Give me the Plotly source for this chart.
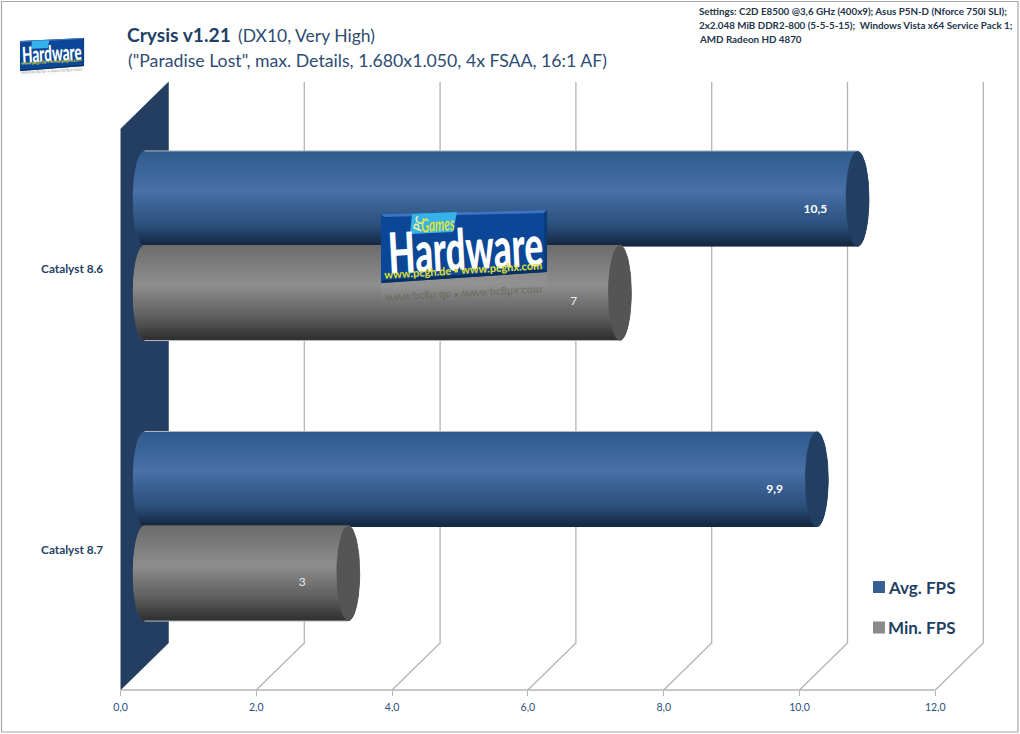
import json
import math
import plotly.graph_objects as go

# Chart data
categories = ["Catalyst 8.7", "Catalyst 8.6"]
avg_fps = [9.9, 10.5]
min_fps = [3, 7]
x_ticks = [0, 2, 4, 6, 8, 10, 12]
series_names = ["Avg. FPS", "Min. FPS"]

# Canvas and the mapping between axis units and pixels
W, H = 1020, 734
PX_PER_X = 67.9
PX_PER_Y = 280.5
ORIGIN_X = 120.5
FLOOR_Y = 690.0

def ux(px):
    return px / PX_PER_X

def uy(px):
    return px / PX_PER_Y

def paper_x(px):
    return px / W

def paper_y(py):
    return 1 - py / H

# Pseudo-3D depth of the plot box, and of the bars standing mid-way inside it
BACK_DX, BACK_DY = ux(48), uy(47)
BAR_DX, BAR_DY = ux(24), uy(23.5)
BAR_R_Y = uy(47.3)
BAR_R_X = ux(11.5)
BAR_OFFSET = uy(47)

GRID = "#b4b4b4"
NAVY = "#1f3f66"
FONT = "Lato"

BLUE_STOPS = [(0, (46, 90, 140)), (0.42, (72, 113, 168)), (0.8, (42, 78, 122)), (1, (20, 38, 63))]
GRAY_STOPS = [(0, (108, 108, 108)), (0.42, (142, 142, 142)), (0.75, (96, 96, 96)), (1, (48, 48, 48))]

def shade(stops, t):
    for (t0, c0), (t1, c1) in zip(stops, stops[1:]):
        if t <= t1:
            f = (t - t0) / (t1 - t0)
            return "rgb(%d,%d,%d)" % tuple(round(a + (b - a) * f) for a, b in zip(c0, c1))
    return "rgb(%d,%d,%d)" % stops[-1][1]

fig = go.Figure()

def line(xs, ys, color=GRID, width=1.3):
    fig.add_trace(go.Scatter(x=xs, y=ys, mode="lines", line=dict(color=color, width=width),
                             hoverinfo="skip", showlegend=False))

def polygon(xs, ys, color):
    fig.add_trace(go.Scatter(x=xs, y=ys, mode="lines", fill="toself", fillcolor=color,
                             line=dict(color=color, width=0.5), hoverinfo="skip", showlegend=False))

# Side wall of the plot box
y_low, y_high = -0.5, len(categories) - 0.5
polygon([0, BACK_DX, BACK_DX, 0, 0],
        [y_high, y_high + BACK_DY, y_low + BACK_DY, y_low, y_high], "#233e60")
line([0, 0], [y_low, y_high], "#9aa0a8", 1)

# Grid lines on the back wall, folding forward across the floor
for v in x_ticks[1:]:
    line([v + BACK_DX, v + BACK_DX, v], [y_high + BACK_DY, y_low + BACK_DY, y_low])
line([x_ticks[0], x_ticks[-1]], [y_low, y_low], GRID, 1.6)

def cylinder(value, y_center, stops, cap_color, rim_side):
    cx0 = BAR_DX
    cx1 = value + BAR_DX
    n = 60
    # Solid silhouette first, so nothing behind shows between the shading rows
    left = [(cx0 - BAR_R_X * math.sin(math.pi * k / n), y_center + BAR_R_Y * math.cos(math.pi * k / n))
            for k in range(n + 1)]
    right = [(cx1 + BAR_R_X * math.sin(math.pi * k / n), y_center - BAR_R_Y * math.cos(math.pi * k / n))
             for k in range(n + 1)]
    outline = left + right + left[:1]
    polygon([p[0] for p in outline], [p[1] for p in outline], shade(stops, 0.6))
    rows = 94
    for i in range(rows):
        t = (i + 0.5) / rows
        v = 1 - 2 * t
        chord = BAR_R_X * math.sqrt(max(0, 1 - v * v))
        y = y_center + v * BAR_R_Y
        line([cx0 - chord, cx1 + chord], [y, y], shade(stops, t), 2)
    # Pale outer edge where the cylinder meets the white background
    rim_y = y_center + rim_side * (BAR_R_Y + uy(0.5))
    line([cx0, cx1], [rim_y, rim_y], "#b6bcc2", 1)
    xs = [cx1 + BAR_R_X * math.cos(2 * math.pi * k / n) for k in range(n + 1)]
    ys = [y_center + BAR_R_Y * math.sin(2 * math.pi * k / n) for k in range(n + 1)]
    polygon(xs, ys, cap_color)

def value_text(v):
    return str(v).replace(".", ",")

# Bars, top category first so each lower bar overlaps cleanly
for c in range(len(categories) - 1, -1, -1):
    base = c + BAR_DY
    cylinder(avg_fps[c], base + BAR_OFFSET, BLUE_STOPS, "#223f61", 1)
    cylinder(min_fps[c], base - BAR_OFFSET, GRAY_STOPS, "#555555", -1)

# Value labels sit just inside the bar ends, below the bar's centre line
for c in range(len(categories)):
    base = c + BAR_DY
    fig.add_trace(go.Scatter(
        x=[avg_fps[c] - ux(18)], y=[base + BAR_OFFSET - uy(11)], mode="text",
        text=[value_text(avg_fps[c])], textfont=dict(family=FONT, size=12, color="white", weight="bold"),
        hoverinfo="skip", showlegend=False))
    fig.add_trace(go.Scatter(
        x=[min_fps[c] - ux(22)], y=[base - BAR_OFFSET - uy(9.5)], mode="text",
        text=[value_text(min_fps[c])], textfont=dict(family=FONT, size=12, color="#ececec"),
        hoverinfo="skip", showlegend=False))

shapes = []
annotations = []
text_warps = {}

def note(text, px, py, size, color, anchor="center", angle=0, bold=False, italic=False,
         family=FONT, opacity=1.0, weight=None, warp=None):
    if warp:
        text_warps[len(annotations)] = warp
    annotations.append(dict(
        text=text, x=paper_x(px), y=paper_y(py), xref="paper", yref="paper",
        xanchor=anchor, yanchor="middle", showarrow=False, textangle=angle, opacity=opacity,
        font=dict(family=family, size=size, color=color,
                  weight=weight or ("bold" if bold else "normal"),
                  style="italic" if italic else "normal")))

def quad(points, fill, opacity=1.0):
    path = "M " + " L ".join("%.4f,%.4f" % (paper_x(x), paper_y(y)) for x, y in points) + " Z"
    shapes.append(dict(type="path", path=path, xref="paper", yref="paper", fillcolor=fill,
                       line=dict(width=0), opacity=opacity, layer="above"))

# Outer frame of the whole graphic
shapes.append(dict(type="rect", x0=paper_x(1.5), x1=paper_x(1018), y0=paper_y(732), y1=paper_y(1.5),
                   xref="paper", yref="paper", line=dict(color="#a8a8a8", width=1.2), layer="below"))

# Heading beside the small badge (first line is the figure title)
note('("Paradise Lost", max. Details, 1.680x1.050, 4x FSAA, 16:1 AF)', 125.5, 60.5, 17.7, "#2f4d73", "left")

# Test system notes, top right
settings = ["Settings: C2D E8500 @3,6 GHz (400x9); Asus P5N-D (Nforce 750i SLI);",
            "2x2.048 MiB DDR2-800 (5-5-5-15);  Windows Vista x64 Service Pack 1;",
            "AMD Radeon HD 4870"]
for i, s in enumerate(settings):
    note(s, 697, 11.5 + 13.8 * i, 9.8, "#24344a", "left", bold=True)

# Legend
legend_colors = ["#355f92", "#8a8a8a"]
for name, col, py in zip(series_names, legend_colors, [587.5, 628]):
    quad([(873, py - 6.5), (885, py - 6.5), (885, py + 5.5), (873, py + 5.5)], col)
    note(name, 886, py - 0.5, 17, NAVY, "left", bold=True)

def badge(x0, y0, x1, y1, left_h, right_h, scale, big):
    """Publisher badge: a tilted blue plate with a faded reflection below it."""
    # Reflection fading out beneath the plate
    steps = 8
    depth = 22 * scale
    slope = (y1 + right_h - y0 - left_h) / (x1 - x0)
    for k in range(steps):
        a = k / steps
        b = (k + 1) / steps
        ya = y0 + left_h + a * depth
        yb = y0 + left_h + b * depth
        quad([(x0, ya), (x1, ya + slope * (x1 - x0)), (x1, yb + slope * (x1 - x0)), (x0, yb)],
             "#c8c8c8", 0.14 * (1 - a))
    quad([(x0, y0), (x1, y1), (x1, y1 + right_h), (x0, y0 + left_h)], "#0b4796")
    # Bevelled rim of the plate
    rim = 3 * scale
    quad([(x0, y0), (x1, y1), (x1 - rim, y1 + rim), (x0 + rim, y0 + rim)], "#3f73bd")
    quad([(x0, y0 + left_h), (x1, y1 + right_h), (x1 - rim, y1 + right_h - rim), (x0 + rim, y0 + left_h - rim)],
         "#08305f")
    quad([(x1, y1), (x1, y1 + right_h), (x1 - rim, y1 + right_h - rim), (x1 - rim, y1 + rim)], "#0a3c7c")
    cx = (x0 + x1) / 2
    cy = (y0 + y1) / 2
    # Light tab holding the magazine name
    tx = x0 + 31 * scale
    ty = y0
    quad([(tx, ty), (tx + 45 * scale, ty - 2 * scale), (tx + 41 * scale, ty + 18 * scale),
          (tx - 2 * scale, ty + 20 * scale)], "#35b2ea")
    if big:
        note("PC", tx + 6, ty + 10, 12, "#f2f2a0", angle=-75, bold=True, italic=True)
        note("Games", tx + 26, ty + 10, 13, "#dfe03a", angle=-4, bold=True, italic=True,
             warp=(0.9, 1.45))
    note("Hardware", cx + 1 * scale, cy + 35 * scale, 35 * scale, "white", angle=-3, weight=900,
         warp=(1.0, 1.62))
    url = "www.pcgh.de ▪ www.pcghx.com"
    note(url, cx - 1 * scale, cy + 57.5 * scale, 11 * scale, "#e2e12a", angle=-3.5, bold=True)
    # Mirror image of the address in the reflection
    note(url, cx - 1 * scale, cy + 83 * scale, 11 * scale, "#56563c", angle=-3, bold=True,
         opacity=0.4, warp=(1.0, -1.0))

badge(381, 214, 547, 210, 69, 62, 1.0, True)
badge(20, 41, 84, 38, 30, 28, 0.385, False)

fig.update_layout(
    width=W, height=H,
    margin=dict(l=0, r=0, t=0, b=0),
    paper_bgcolor="white", plot_bgcolor="white",
    showlegend=False,
    separators=", ",
    font=dict(family=FONT),
    title=dict(
        text='<b>Crysis v1.21</b> \u2009<span style="font-size:17.5px;font-weight:normal;color:#2f4d73">(DX10, Very High)</span>',
        x=paper_x(127), xref="paper", xanchor="left",
        y=paper_y(35.5), yref="paper", yanchor="middle",
        font=dict(family=FONT, size=19.2, color=NAVY)),
    xaxis=dict(
        range=[-ORIGIN_X / PX_PER_X, (W - ORIGIN_X) / PX_PER_X],
        anchor="free", position=paper_y(FLOOR_Y),
        tickmode="array", tickvals=x_ticks, tickformat=".1f",
        ticks="outside", ticklen=5, tickcolor=GRID, tickwidth=1.3, ticklabelstandoff=2,
        tickfont=dict(family=FONT, size=10.5, color="#2b4f82"),
        showgrid=False, zeroline=False, showline=False, fixedrange=True),
    yaxis=dict(
        range=[y_low - (H - FLOOR_Y) / PX_PER_Y, y_low + FLOOR_Y / PX_PER_Y],
        anchor="free", position=paper_x(ORIGIN_X),
        tickmode="array", tickvals=list(range(len(categories))), ticktext=categories,
        ticks="outside", ticklen=15, tickcolor="rgba(0,0,0,0)",
        tickfont=dict(family=FONT, size=11.8, color=NAVY, weight="bold"),
        showgrid=False, zeroline=False, showline=False, fixedrange=True),
    shapes=shapes,
    annotations=annotations,
)

# Stretch or mirror selected annotation texts about their own centres
warp_script = """
var warps = %s;
Object.keys(warps).forEach(function (i) {
  var t = document.querySelector('g.annotation[data-index="' + i + '"] text');
  if (!t) return;
  var b = t.getBBox(), cx = b.x + b.width / 2, cy = b.y + b.height / 2;
  t.setAttribute('transform', 'translate(' + cx + ',' + cy + ') scale(' + warps[i][0] + ',' + warps[i][1] +
    ') translate(' + (-cx) + ',' + (-cy) + ')');
});
""" % json.dumps(text_warps)

fig.write_html("out.html", config=dict(displayModeBar=False), post_script=warp_script)
